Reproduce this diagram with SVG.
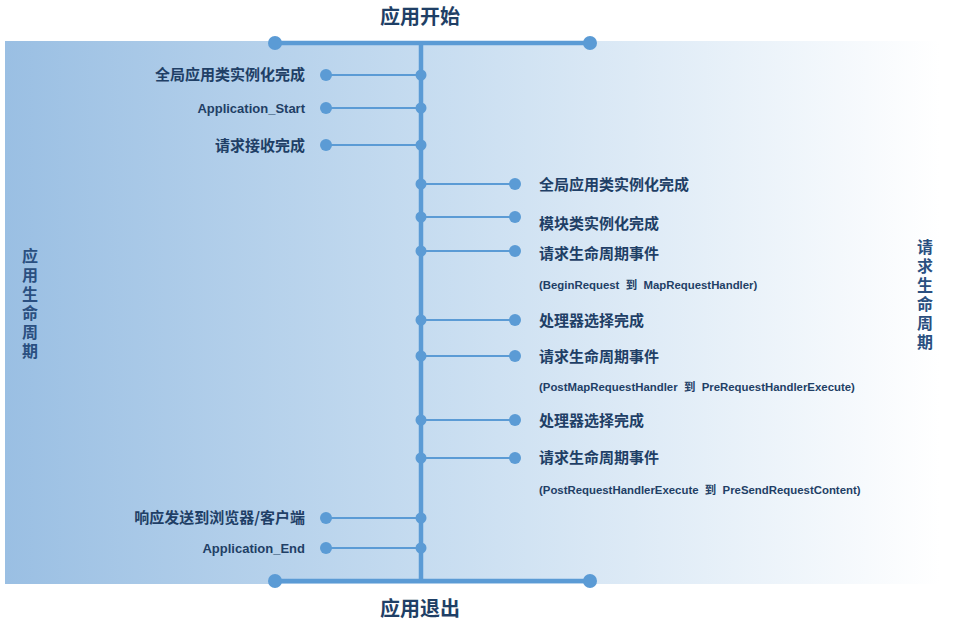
<svg xmlns="http://www.w3.org/2000/svg" width="962" height="626" viewBox="0 0 962 626">
<defs>
<linearGradient id="bg" x1="0" y1="0" x2="1" y2="0">
<stop offset="0" stop-color="#9abfe3"/>
<stop offset="0.45" stop-color="#c6dcf0"/>
<stop offset="1" stop-color="#ffffff"/>
</linearGradient>
</defs>
<style>
.ln{stroke:#5b9bd5;fill:none}
.dot{fill:#5b9bd5}
.lbl{font-family:"Noto Sans CJK SC","Liberation Sans",sans-serif;font-weight:bold;font-size:15px;fill:#1f3f66}
.lat{font-family:"Liberation Sans","Noto Sans CJK SC",sans-serif;font-weight:bold;font-size:13px;fill:#1f3f66}
.sub{font-family:"Liberation Sans","Noto Sans CJK SC",sans-serif;font-weight:bold;font-size:11.4px;fill:#1f3f66}
.ttl{font-family:"Noto Sans CJK SC",sans-serif;font-weight:bold;font-size:20px;fill:#1f3f66;text-anchor:middle}
.vt{font-family:"Noto Sans CJK SC",sans-serif;font-weight:bold;font-size:16px;fill:#2a4f80;writing-mode:vertical-rl;letter-spacing:3px}
.r{text-anchor:end}
</style>
<rect x="5" y="41" width="935" height="543" fill="url(#bg)"/>
<g id="connectors">
<line class="ln" x1="275" y1="43" x2="590" y2="43" stroke-width="4.5"/>
<line class="ln" x1="275" y1="581" x2="590" y2="581" stroke-width="4.5"/>
<line class="ln" x1="421" y1="43" x2="421" y2="581" stroke-width="4.5"/>
<g stroke-width="2">
<line class="ln" x1="326" y1="75" x2="421" y2="75"/>
<line class="ln" x1="326" y1="108" x2="421" y2="108"/>
<line class="ln" x1="326" y1="145" x2="421" y2="145"/>
<line class="ln" x1="326" y1="518" x2="421" y2="518"/>
<line class="ln" x1="326" y1="548" x2="421" y2="548"/>
<line class="ln" x1="421" y1="184" x2="515" y2="184"/>
<line class="ln" x1="421" y1="217" x2="515" y2="217"/>
<line class="ln" x1="421" y1="251" x2="515" y2="251"/>
<line class="ln" x1="421" y1="320" x2="515" y2="320"/>
<line class="ln" x1="421" y1="356" x2="515" y2="356"/>
<line class="ln" x1="421" y1="420" x2="515" y2="420"/>
<line class="ln" x1="421" y1="458" x2="515" y2="458"/>
</g>
<g class="dot">
<circle cx="275" cy="43" r="7"/><circle cx="590" cy="43" r="7"/>
<circle cx="275" cy="581" r="7"/><circle cx="590" cy="581" r="7"/>
<circle cx="421" cy="75" r="5.5"/><circle cx="421" cy="108" r="5.5"/><circle cx="421" cy="145" r="5.5"/>
<circle cx="421" cy="518" r="5.5"/><circle cx="421" cy="548" r="5.5"/>
<circle cx="421" cy="184" r="5.5"/><circle cx="421" cy="217" r="5.5"/><circle cx="421" cy="251" r="5.5"/>
<circle cx="421" cy="320" r="5.5"/><circle cx="421" cy="356" r="5.5"/><circle cx="421" cy="420" r="5.5"/><circle cx="421" cy="458" r="5.5"/>
</g>
</g>
<g id="start"><text class="ttl" x="420" y="24">应用开始</text></g>
<g id="end"><text class="ttl" x="420" y="616">应用退出</text></g>
<g id="app-lifecycle"><text class="vt" x="30" y="248">应用生命周期</text></g>
<g id="req-lifecycle"><text class="vt" x="925" y="239">请求生命周期</text></g>
<g id="l1"><circle class="dot" cx="326" cy="75" r="6"/><text class="lbl r" x="305" y="80">全局应用类实例化完成</text></g>
<g id="l2"><circle class="dot" cx="326" cy="108" r="6"/><text class="lat r" x="305" y="113">Application_Start</text></g>
<g id="l3"><circle class="dot" cx="326" cy="145" r="6"/><text class="lbl r" x="305" y="151">请求接收完成</text></g>
<g id="l4"><circle class="dot" cx="326" cy="518" r="6"/><text class="lbl r" x="305" y="523">响应发送到浏览器/客户端</text></g>
<g id="l5"><circle class="dot" cx="326" cy="548" r="6"/><text class="lat r" x="305" y="553">Application_End</text></g>
<g id="r1"><circle class="dot" cx="515" cy="184" r="6"/><text class="lbl" x="539" y="190">全局应用类实例化完成</text></g>
<g id="r2"><circle class="dot" cx="515" cy="217" r="6"/><text class="lbl" x="539" y="229">模块类实例化完成</text></g>
<g id="r3"><circle class="dot" cx="515" cy="251" r="6"/><text class="lbl" x="539" y="259">请求生命周期事件</text><text class="sub" x="539" y="289" xml:space="preserve">(BeginRequest  到  MapRequestHandler)</text></g>
<g id="r4"><circle class="dot" cx="515" cy="320" r="6"/><text class="lbl" x="539" y="326">处理器选择完成</text></g>
<g id="r5"><circle class="dot" cx="515" cy="356" r="6"/><text class="lbl" x="539" y="362">请求生命周期事件</text><text class="sub" x="539" y="391" xml:space="preserve">(PostMapRequestHandler  到  PreRequestHandlerExecute)</text></g>
<g id="r6"><circle class="dot" cx="515" cy="420" r="6"/><text class="lbl" x="539" y="426">处理器选择完成</text></g>
<g id="r7"><circle class="dot" cx="515" cy="458" r="6"/><text class="lbl" x="539" y="463">请求生命周期事件</text><text class="sub" x="539" y="494" xml:space="preserve">(PostRequestHandlerExecute  到  PreSendRequestContent)</text></g>
</svg>
